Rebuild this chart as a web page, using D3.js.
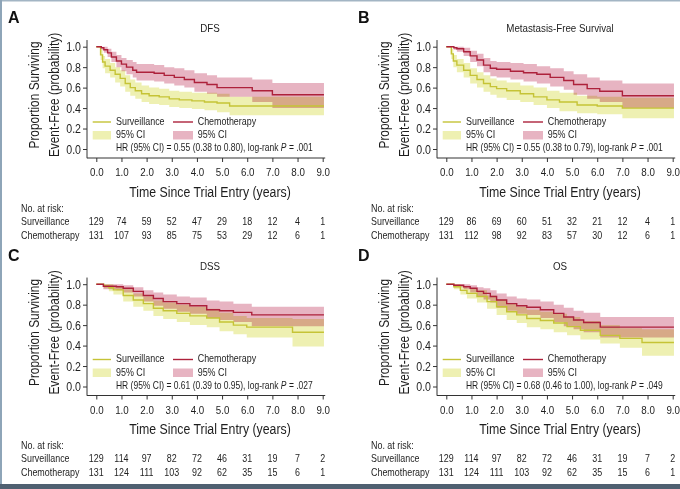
<!DOCTYPE html>
<html>
<head>
<meta charset="utf-8">
<script src="https://cdn.jsdelivr.net/npm/d3@7"></script>
<style>
  html, body { margin: 0; padding: 0; background: #fff; }
  svg { display: block; font-family: 'Liberation Sans', Arial, Helvetica, sans-serif; }
</style>
</head>
<body>
<svg id="main" width="680" height="489"></svg>
<script>
// ---- data ----
const timeTicks = [0, 1, 2, 3, 4, 5, 6, 7, 8, 9];
const survTicks = [0, 0.2, 0.4, 0.6, 0.8, 1.0];
const panelLetters = ['A', 'B', 'C', 'D'];
const panelTitles = ['DFS', 'Metastasis-Free Survival', 'DSS', 'OS'];
const hrLabels = [
  'HR (95% CI) = 0.55 (0.38 to 0.80), log-rank ',
  'HR (95% CI) = 0.55 (0.38 to 0.79), log-rank ',
  'HR (95% CI) = 0.61 (0.39 to 0.95), log-rank ',
  'HR (95% CI) = 0.68 (0.46 to 1.00), log-rank '
];
const pValues = ['.001', '.001', '.027', '.049'];
const armNames = ['Surveillance', 'Chemotherapy'];

const riskSurveillance = [
  [129, 74, 59, 52, 47, 29, 18, 12, 4, 1],
  [129, 86, 69, 60, 51, 32, 21, 12, 4, 1],
  [129, 114, 97, 82, 72, 46, 31, 19, 7, 2],
  [129, 114, 97, 82, 72, 46, 31, 19, 7, 2]
];
const riskChemotherapy = [
  [131, 107, 93, 85, 75, 53, 29, 12, 6, 1],
  [131, 112, 98, 92, 83, 57, 30, 12, 6, 1],
  [131, 124, 111, 103, 92, 62, 35, 15, 6, 1],
  [131, 124, 111, 103, 92, 62, 35, 15, 6, 1]
];

// [time, survival, lower 95% CI, upper 95% CI]
const dfsSurveillance = [
  [0, 1, 1, 1], [0.17, 0.92, 0.87, 0.97], [0.25, 0.85, 0.79, 0.91], [0.35, 0.81, 0.74, 0.88],
  [0.55, 0.77, 0.70, 0.84], [0.75, 0.73, 0.65, 0.80], [0.95, 0.69, 0.61, 0.77], [1.15, 0.64, 0.56, 0.72],
  [1.35, 0.60, 0.52, 0.68], [1.55, 0.57, 0.49, 0.65], [1.8, 0.54, 0.46, 0.62], [2.1, 0.52, 0.44, 0.60],
  [2.5, 0.51, 0.43, 0.59], [2.9, 0.49, 0.41, 0.57], [3.3, 0.48, 0.40, 0.56], [3.8, 0.47, 0.39, 0.55],
  [4.3, 0.46, 0.38, 0.55], [4.8, 0.45, 0.36, 0.54], [5.3, 0.42, 0.33, 0.51], [9.05, 0.42, 0.33, 0.51]
];
const dfsChemotherapy = [
  [0, 1, 1, 1], [0.2, 0.99, 0.97, 1], [0.3, 0.97, 0.94, 1], [0.45, 0.94, 0.90, 0.98],
  [0.6, 0.90, 0.85, 0.95], [0.8, 0.86, 0.80, 0.92], [1.0, 0.83, 0.76, 0.89], [1.2, 0.80, 0.73, 0.87],
  [1.45, 0.77, 0.70, 0.85], [1.6, 0.75, 0.67, 0.83], [2.3, 0.74, 0.66, 0.82], [2.7, 0.72, 0.64, 0.80],
  [3.1, 0.70, 0.62, 0.79], [3.5, 0.68, 0.60, 0.77], [3.9, 0.65, 0.56, 0.74], [4.4, 0.63, 0.54, 0.72],
  [4.8, 0.60, 0.51, 0.70], [6.2, 0.57, 0.46, 0.68], [7.0, 0.53, 0.40, 0.645], [9.05, 0.53, 0.40, 0.645]
];
const mfsSurveillance = [
  [0, 1, 1, 1], [0.2, 0.93, 0.88, 0.98], [0.28, 0.86, 0.80, 0.92], [0.42, 0.82, 0.75, 0.88],
  [0.69, 0.77, 0.70, 0.84], [0.95, 0.72, 0.64, 0.79], [1.22, 0.68, 0.60, 0.75], [1.48, 0.64, 0.56, 0.72],
  [1.75, 0.61, 0.53, 0.69], [2.0, 0.59, 0.50, 0.67], [2.4, 0.57, 0.48, 0.65], [2.94, 0.54, 0.46, 0.62],
  [3.47, 0.51, 0.43, 0.60], [4.0, 0.48, 0.40, 0.57], [4.5, 0.46, 0.37, 0.55], [5.2, 0.43, 0.35, 0.52],
  [6.0, 0.42, 0.34, 0.51], [7.0, 0.40, 0.30, 0.50], [9.05, 0.40, 0.30, 0.50]
];
const mfsChemotherapy = [
  [0, 1, 1, 1], [0.3, 0.99, 0.97, 1], [0.42, 0.98, 0.95, 1], [0.69, 0.95, 0.91, 0.99],
  [0.95, 0.91, 0.85, 0.96], [1.22, 0.87, 0.81, 0.93], [1.48, 0.82, 0.75, 0.89], [1.75, 0.79, 0.71, 0.86],
  [2.0, 0.78, 0.70, 0.85], [2.55, 0.76, 0.68, 0.84], [3.07, 0.745, 0.66, 0.83], [3.6, 0.73, 0.64, 0.81],
  [4.13, 0.70, 0.61, 0.79], [4.67, 0.67, 0.58, 0.76], [5.06, 0.63, 0.53, 0.73], [5.6, 0.59, 0.49, 0.70],
  [6.1, 0.565, 0.46, 0.67], [7.0, 0.52, 0.40, 0.64], [9.05, 0.52, 0.40, 0.64]
];
const dssSurveillance = [
  [0, 1, 1, 1], [0.3, 0.985, 0.96, 1], [0.5, 0.965, 0.93, 1], [0.68, 0.945, 0.90, 0.98],
  [1.07, 0.89, 0.83, 0.95], [1.47, 0.845, 0.78, 0.91], [1.87, 0.81, 0.74, 0.88], [2.27, 0.765, 0.69, 0.84],
  [2.66, 0.74, 0.66, 0.82], [3.2, 0.715, 0.63, 0.80], [3.72, 0.69, 0.60, 0.78], [4.39, 0.67, 0.58, 0.76],
  [4.9, 0.63, 0.54, 0.72], [5.45, 0.60, 0.51, 0.69], [5.98, 0.58, 0.48, 0.67], [7.8, 0.53, 0.39, 0.66],
  [9.05, 0.53, 0.39, 0.66]
];
const dssChemotherapy = [
  [0, 1, 1, 1], [0.28, 0.98, 0.95, 1], [0.8, 0.975, 0.94, 1], [1.07, 0.96, 0.92, 0.99],
  [1.47, 0.93, 0.88, 0.97], [1.87, 0.89, 0.83, 0.94], [2.27, 0.86, 0.79, 0.92], [2.66, 0.83, 0.76, 0.90],
  [3.2, 0.81, 0.73, 0.88], [3.72, 0.79, 0.71, 0.87], [4.39, 0.75, 0.67, 0.84], [4.9, 0.74, 0.65, 0.83],
  [5.45, 0.725, 0.63, 0.81], [6.18, 0.70, 0.59, 0.78], [9.05, 0.70, 0.59, 0.78]
];
const osSurveillance = [
  [0, 1, 1, 1], [0.3, 0.975, 0.95, 1], [0.56, 0.94, 0.90, 0.98], [0.82, 0.91, 0.86, 0.96],
  [1.22, 0.88, 0.82, 0.94], [1.62, 0.83, 0.76, 0.89], [2.0, 0.78, 0.70, 0.85], [2.4, 0.73, 0.65, 0.81],
  [2.8, 0.70, 0.62, 0.78], [3.2, 0.665, 0.58, 0.75], [3.74, 0.645, 0.56, 0.73], [4.27, 0.62, 0.53, 0.71],
  [4.8, 0.585, 0.50, 0.68], [5.33, 0.55, 0.46, 0.64], [6.12, 0.50, 0.42, 0.60], [6.9, 0.47, 0.38, 0.57],
  [7.78, 0.43, 0.30, 0.56], [9.05, 0.43, 0.30, 0.56]
];
const osChemotherapy = [
  [0, 1, 1, 1], [0.3, 0.99, 0.97, 1], [0.69, 0.975, 0.95, 1], [0.95, 0.96, 0.92, 0.99],
  [1.22, 0.93, 0.88, 0.97], [1.48, 0.91, 0.85, 0.96], [1.75, 0.88, 0.82, 0.94], [2.0, 0.845, 0.77, 0.91],
  [2.4, 0.81, 0.74, 0.88], [2.8, 0.79, 0.71, 0.86], [3.2, 0.775, 0.70, 0.85], [3.74, 0.75, 0.67, 0.83],
  [4.27, 0.715, 0.63, 0.80], [4.67, 0.68, 0.59, 0.77], [5.06, 0.65, 0.56, 0.74], [5.46, 0.625, 0.53, 0.72],
  [6.12, 0.58, 0.48, 0.68], [9.05, 0.58, 0.48, 0.68]
];

const curvesSurveillance = [dfsSurveillance, mfsSurveillance, dssSurveillance, osSurveillance];
const curvesChemotherapy = [dfsChemotherapy, mfsChemotherapy, dssChemotherapy, osChemotherapy];

// ---- styling ----
const colSurvLine = '#c5c336', colSurvBand = '#eef0b2';
const colChemoLine = '#ad213b', colChemoBand = '#e7b4c2';
const textCol = '#1e1e1e';
const narrow = 0.85; // the figure uses a condensed sans; squeeze glyphs horizontally

let svg = d3.select('#main');

// frame lines of the figure
svg.append('rect').attr('x', 0).attr('y', 0).attr('width', 680).attr('height', 1.5).style('fill', '#a3b5c4');
svg.append('rect').attr('x', 0).attr('y', 0).attr('width', 2).attr('height', 489).style('fill', '#8ea5b8');
svg.append('rect').attr('x', 0).attr('y', 484).attr('width', 680).attr('height', 5).style('fill', '#4f6071');

// panel origins (A, B, C, D)
const offsets = [[0, 0], [350, 0], [0, 237.5], [350, 237.5]];

function drawPanel(i) {
  let g = svg.append('g').attr('transform', `translate(${offsets[i][0]},${offsets[i][1]})`);

  let x = d3.scaleLinear().domain([0, 9]).range([96.3, 322.7]);
  let y = d3.scaleLinear().domain([0, 1]).range([149, 46.7]);

  let band = d3.area()
    .curve(d3.curveStepAfter)
    .x(d => x(d[0]))
    .y0(d => y(d[2]))
    .y1(d => y(d[3]));
  let line = d3.line()
    .curve(d3.curveStepAfter)
    .x(d => x(d[0]))
    .y(d => y(d[1]));

  // confidence bands (multiply so the overlap turns brownish)
  g.append('path').attr('d', band(curvesSurveillance[i]))
    .style('fill', colSurvBand).style('mix-blend-mode', 'multiply');
  g.append('path').attr('d', band(curvesChemotherapy[i]))
    .style('fill', colChemoBand).style('mix-blend-mode', 'multiply');

  g.append('path').attr('d', line(curvesSurveillance[i]))
    .style('fill', 'none').style('stroke', colSurvLine).style('stroke-width', 1.4);
  g.append('path').attr('d', line(curvesChemotherapy[i]))
    .style('fill', 'none').style('stroke', colChemoLine).style('stroke-width', 1.4);

  // y axis
  let yAxis = g.append('g').attr('transform', 'translate(87,0)')
    .call(d3.axisLeft(y).tickValues(survTicks).tickFormat(d3.format('.1f')).tickSize(4).tickPadding(2));
  yAxis.select('.domain').remove();
  yAxis.append('line').attr('y1', y(1.065)).attr('y2', y(-0.09));
  yAxis.selectAll('line').style('stroke', '#333').style('stroke-width', 1);
  yAxis.selectAll('text').style('font-size', '12.5px').style('fill', textCol).style('font-family', null);

  // x axis
  let xAxis = g.append('g').attr('transform', 'translate(0,158)')
    .call(d3.axisBottom(x).tickValues(timeTicks).tickFormat(d3.format('.1f')).tickSize(4).tickPadding(6));
  xAxis.select('.domain').remove();
  xAxis.append('line').attr('x1', 87).attr('x2', x(9.1));
  xAxis.selectAll('line').style('stroke', '#333').style('stroke-width', 1);
  xAxis.selectAll('text').style('font-size', '11.5px').style('fill', textCol).style('font-family', null);

  // titles
  g.append('text').text(panelLetters[i]).attr('class', 'wide')
    .attr('x', 8).attr('y', 19).attr('dominant-baseline', 'middle')
    .style('font-weight', 'bold').style('font-size', '16px').style('fill', '#111');
  g.append('text').text(panelTitles[i])
    .attr('x', 210).attr('y', 29).attr('text-anchor', 'middle').attr('dominant-baseline', 'middle')
    .style('font-size', '11.5px').style('fill', textCol);
  g.append('text').text('Time Since Trial Entry (years)')
    .attr('x', 210).attr('y', 193).attr('text-anchor', 'middle').attr('dominant-baseline', 'middle')
    .style('font-size', '14.5px').style('fill', textCol);
  g.append('text').text('Proportion Surviving')
    .attr('transform', 'translate(35,95) rotate(-90)')
    .attr('text-anchor', 'middle').attr('dominant-baseline', 'middle')
    .style('font-size', '14px').style('fill', textCol);
  g.append('text').text('Event-Free (probability)')
    .attr('transform', 'translate(55,95) rotate(-90)')
    .attr('text-anchor', 'middle').attr('dominant-baseline', 'middle')
    .style('font-size', '14px').style('fill', textCol);

  // legend
  let leg = g.append('g').style('font-size', '10.5px').style('fill', textCol);
  leg.append('line').attr('x1', 92.7).attr('x2', 111).attr('y1', 122).attr('y2', 122)
    .style('stroke', colSurvLine).style('stroke-width', 1.4);
  leg.append('line').attr('x1', 173).attr('x2', 193).attr('y1', 122).attr('y2', 122)
    .style('stroke', colChemoLine).style('stroke-width', 1.4);
  leg.append('rect').attr('x', 92.7).attr('y', 131).attr('width', 18.3).attr('height', 8.5).style('fill', colSurvBand);
  leg.append('rect').attr('x', 173).attr('y', 131).attr('width', 20).attr('height', 8.5).style('fill', colChemoBand);
  leg.append('text').attr('x', 116).attr('y', 122).attr('dominant-baseline', 'middle').text(armNames[0]);
  leg.append('text').attr('x', 197.7).attr('y', 122).attr('dominant-baseline', 'middle').text(armNames[1]);
  leg.append('text').attr('x', 116).attr('y', 135.5).attr('dominant-baseline', 'middle').text('95% CI');
  leg.append('text').attr('x', 197.7).attr('y', 135.5).attr('dominant-baseline', 'middle').text('95% CI');
  let hr = leg.append('text').attr('x', 116).attr('y', 149).attr('dominant-baseline', 'middle')
    .style('font-size', '10px');
  hr.append('tspan').text(hrLabels[i]);
  hr.append('tspan').style('font-style', 'italic').text('P');
  hr.append('tspan').text(' = ' + pValues[i]);

  // number at risk table
  let risk = g.append('g').style('font-size', '10.5px').style('fill', textCol);
  risk.append('text').attr('x', 21).attr('y', 209).attr('dominant-baseline', 'middle').text('No. at risk:');
  [riskSurveillance[i], riskChemotherapy[i]].forEach((row, r) => {
    let ry = 222 + r * 14;
    risk.append('text').attr('x', 21).attr('y', ry).attr('dominant-baseline', 'middle').text(armNames[r]);
    risk.selectAll('.n' + r).data(row).join('text')
      .attr('class', 'n' + r)
      .attr('x', (d, k) => x(timeTicks[k]))
      .attr('y', ry)
      .attr('text-anchor', 'middle')
      .attr('dominant-baseline', 'middle')
      .text(d => d);
  });
}

panelLetters.forEach((_, i) => drawPanel(i));

// condense every label around its anchor to mimic the narrow typeface of the original
svg.selectAll('text').each(function() {
  if (this.classList.contains('wide')) return;
  let ax = +(this.getAttribute('x') || 0);
  let t = this.getAttribute('transform') || '';
  this.setAttribute('transform',
    `${t} translate(${ax},0) scale(${narrow},1) translate(${-ax},0)`.trim());
});
</script>
</body>
</html>
